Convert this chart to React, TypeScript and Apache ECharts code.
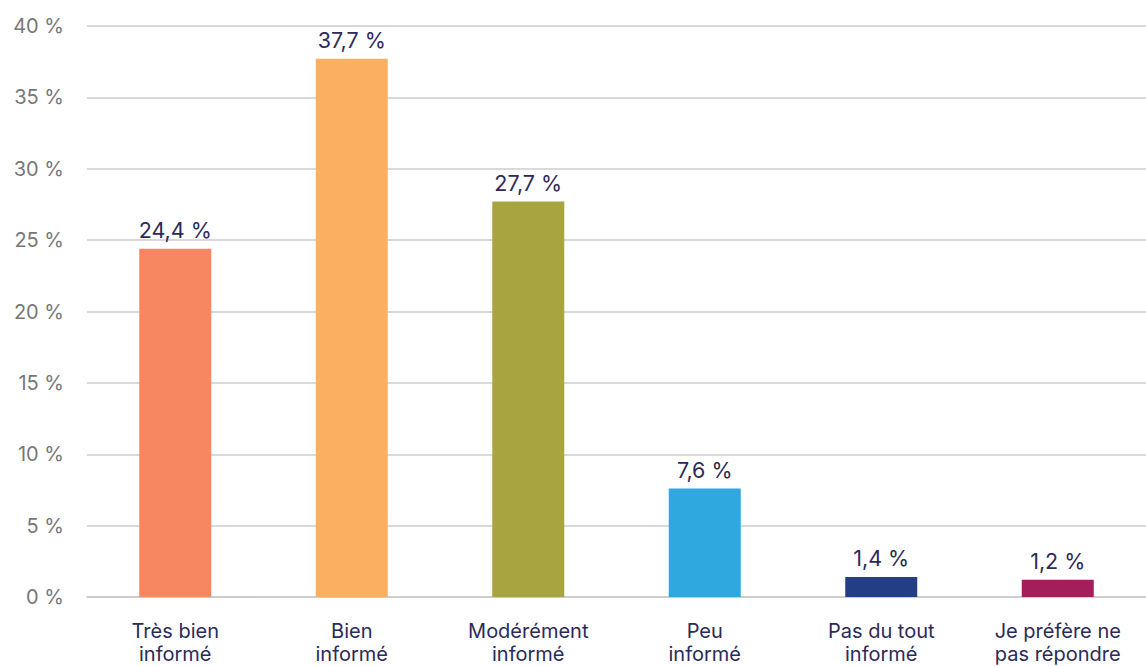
import React, { useEffect, useRef } from "react";
import * as echarts from "echarts";

const categories = [
  "Très bien\ninformé",
  "Bien\ninformé",
  "Modérément\ninformé",
  "Peu\ninformé",
  "Pas du tout\ninformé",
  "Je préfère ne\npas répondre",
];
const values = [24.4, 37.7, 27.7, 7.6, 1.4, 1.2];
const colors = ["#F58861", "#FBB061", "#A8A541", "#2EA8DE", "#213F82", "#A21F5B"];
const yTicks = { min: 0, max: 40, interval: 5 };

const fmt = (v: number) => v.toFixed(1).replace(".", ",") + " %";

export default function App() {
  const ref = useRef<HTMLDivElement>(null);
  useEffect(() => {
    if (!ref.current) return;
    const chart = echarts.init(ref.current, undefined, { renderer: "svg" });
    chart.setOption({
      animation: false,
      textStyle: { fontFamily: "Inter, Roboto, sans-serif" },
      grid: { left: 87, right: -3, top: 26, bottom: 69, containLabel: false },
      xAxis: {
        type: "category",
        data: categories,
        axisLine: { lineStyle: { color: "#c8c8c8", width: 1.5 } },
        axisTick: { show: false },
        axisLabel: {
          color: "#2b2a5a",
          fontSize: 20,
          lineHeight: 23,
          margin: 22,
          interval: 0,
          fontFamily: "Inter, Roboto, sans-serif",
        },
      },
      yAxis: {
        type: "value",
        min: yTicks.min,
        max: yTicks.max,
        interval: yTicks.interval,
        axisLine: { show: false },
        axisTick: { show: false },
        splitLine: { lineStyle: { color: "#cccccc", width: 1.5 } },
        axisLabel: {
          color: "#777777",
          fontSize: 20,
          margin: 23,
          formatter: (v: number) => v + " %",
          fontFamily: "Inter, Roboto, sans-serif",
        },
      },
      series: [
        {
          type: "bar",
          barWidth: 72,
          data: values.map((v, i) => ({ value: v, itemStyle: { color: colors[i] } })),
          label: {
            show: true,
            position: "top",
            distance: 8,
            color: "#2b2a5a",
            fontSize: 21.5,
            fontFamily: "Inter, Roboto, sans-serif",
            formatter: (p: any) => fmt(p.value),
          },
        },
      ],
    });
    return () => chart.dispose();
  }, []);
  return <div ref={ref} style={{ width: 1146, height: 666, position: "absolute", left: 0, top: 0 }} />;
}
